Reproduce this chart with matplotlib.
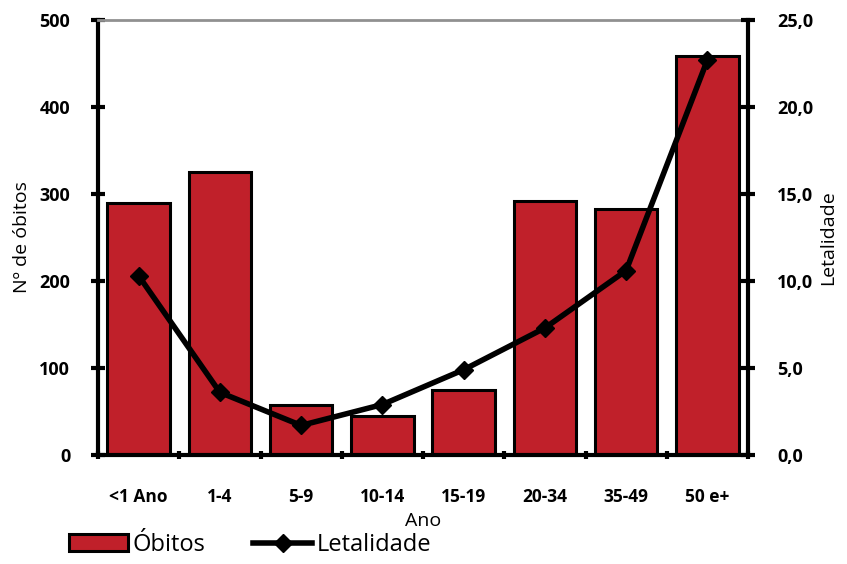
import matplotlib
matplotlib.use("Agg")
import matplotlib.pyplot as plt
import numpy as np

categories = ["<1 Ano", "1-4", "5-9", "10-14", "15-19", "20-34", "35-49", "50 e+"]
obitos = [290, 325, 57, 45, 75, 292, 283, 459]
letalidade = [10.3, 3.6, 1.7, 2.9, 4.9, 7.3, 10.6, 22.7]

plt.rcParams['font.family'] = ['Open Sans', 'DejaVu Sans']

fig = plt.figure(figsize=(8.47, 5.64), dpi=100)
ax = fig.add_axes([98/847, 1-455/564, 650/847, 435/564])
x = np.arange(len(categories))
bars = ax.bar(x, obitos, width=0.77, color="#C0202A", edgecolor="black", linewidth=2.2, label="Óbitos", zorder=2)
ax.set_xlim(-0.5, len(categories)-0.5)
ax.set_ylim(0, 500)
ax.set_yticks([0, 100, 200, 300, 400, 500])
ax.set_xticks(x)
ax.set_xticklabels(categories, fontsize=12.5, fontweight="bold")
ax.set_xticks(np.arange(len(categories)+1)-0.5, minor=True)
ax.tick_params(axis="x", which="major", length=0, pad=24)
ax.tick_params(axis="x", which="minor", length=6, width=3, direction="inout")
ax.tick_params(axis="y", length=10, width=3, direction="inout", labelsize=13, pad=15)
for lbl in ax.get_yticklabels():
    lbl.set_fontweight("bold")
ax.spines["left"].set_linewidth(3)
ax.spines["bottom"].set_linewidth(3)
ax.spines["right"].set_visible(False)
ax.spines["top"].set_color("#909090")
ax.spines["top"].set_linewidth(2)
ax.set_ylabel("Nº de óbitos", fontsize=14, labelpad=6)
ax.set_xlabel("Ano", fontsize=14, labelpad=4)

ax2 = ax.twinx()
ax2.set_ylim(0, 25)
ax2.set_yticks([0, 5, 10, 15, 20, 25])
ax2.set_yticklabels(["0,0", "5,0", "10,0", "15,0", "20,0", "25,0"], fontsize=13, fontweight="bold")
line, = ax2.plot(x, letalidade, color="black", linewidth=4, marker="D", markersize=9, label="Letalidade", zorder=3)
ax2.tick_params(axis="y", length=10, width=3, direction="inout", pad=16)
ax2.spines["right"].set_linewidth(3)
for s in ["left", "bottom", "top"]:
    ax2.spines[s].set_visible(False)
ax2.set_ylabel("Letalidade", fontsize=14, labelpad=4)

fig.legend([bars, line], ["Óbitos", "Letalidade"], loc="lower left",
           bbox_to_anchor=(48/847, -0.025), ncol=2, frameon=False, fontsize=17,
           handlelength=2.5, columnspacing=2.0, handletextpad=0.2)

fig.savefig("out.png", dpi=100)
